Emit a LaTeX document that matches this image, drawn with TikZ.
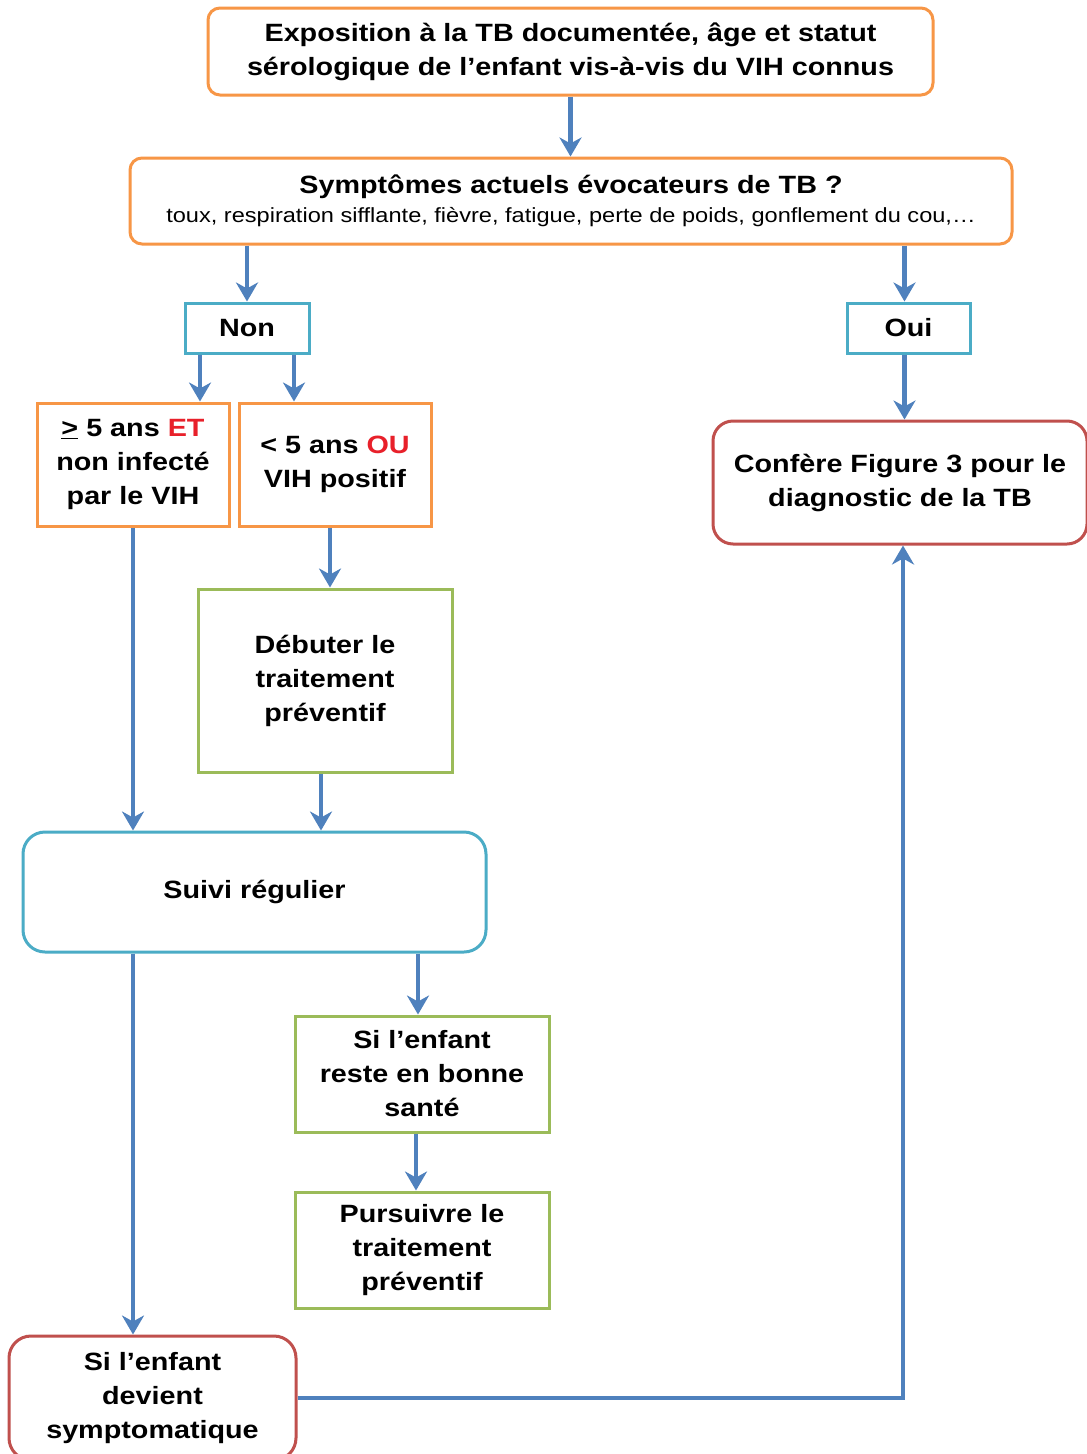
\documentclass[tikz,border=0pt]{standalone}
\usepackage{fontspec}
\setmainfont[FakeStretch=1.15]{Liberation Sans}
\usetikzlibrary{arrows.meta,calc}
\definecolor{borange}{HTML}{F79646}
\definecolor{bteal}{HTML}{4BACC6}
\definecolor{bred}{HTML}{C0504D}
\definecolor{bgreen}{HTML}{9BBB59}
\definecolor{barrow}{HTML}{4F81BD}
\definecolor{tred}{HTML}{E8202A}
\tikzset{
  box/.style={draw, line width=3pt, fill=white, inner sep=0pt, align=center,
    font=\bfseries\fontsize{25}{34}\selectfont},
  obox/.style={box, draw=borange},
  tbox/.style={box, draw=bteal},
  rbox/.style={box, draw=bred},
  gbox/.style={box, draw=bgreen},
  arr/.style={draw=barrow, line width=4.5pt,
    -{Stealth[width=22pt,length=19pt,inset=6pt]}},
}
\begin{document}
\begin{tikzpicture}[x=1pt,y=-1pt]
\useasboundingbox (0,0) rectangle (1087,1454);
\clip (0,0) rectangle (1087,1454);
\fill[white] (0,0) rectangle (1087,1454);

% boxes
\node[obox, rounded corners=12pt, minimum width=725pt, minimum height=87pt] (expo) at (570.5,51.5)
  {Exposition à la TB documentée, âge et statut\\sérologique de l’enfant vis-à-vis du VIH connus};
\node[obox, rounded corners=12pt, minimum width=882pt, minimum height=86pt] (sym) at (571,201)
  {Symptômes actuels évocateurs de TB ?\\[-5pt]{\mdseries\fontsize{20.5}{22}\selectfont toux, respiration sifflante, fièvre, fatigue, perte de poids, gonflement du cou,\dots}};
\node[tbox, minimum width=124pt, minimum height=50pt] (non) at (247,328) {Non};
\node[tbox, minimum width=123pt, minimum height=50pt] (oui) at (908.5,328) {Oui};
\node[obox, minimum width=192pt, minimum height=123pt] (ge) at (133,464.5)
  {\underline{>} 5 ans \textcolor{tred}{ET}\\non infecté\\par le VIH};
\node[obox, minimum width=192pt, minimum height=123pt] (lt) at (335,464.5)
  {< 5 ans \textcolor{tred}{OU}\\VIH positif};
\node[rbox, rounded corners=20pt, minimum width=374pt, minimum height=123pt] (conf) at (900,482.5)
  {Confère Figure 3 pour le\\diagnostic de la TB};
\node[gbox, minimum width=254pt, minimum height=183pt] (deb) at (325,680.5)
  {Débuter le\\traitement\\préventif};
\node[tbox, rounded corners=22pt, minimum width=463pt, minimum height=120pt] (suivi) at (254.5,892)
  {Suivi régulier};
\node[gbox, minimum width=254pt, minimum height=116pt] (reste) at (422,1074)
  {Si l’enfant\\reste en bonne\\santé};
\node[gbox, minimum width=254pt, minimum height=116pt] (pours) at (422,1250)
  {Pursuivre le\\traitement\\préventif};
\node[rbox, rounded corners=22pt, minimum width=287pt, minimum height=124pt] (sympt) at (152.5,1398)
  {Si l’enfant\\devient\\symptomatique};

% connectors
\draw[arr] (expo.south) -- (expo.south |- sym.north);
\draw[arr] (non.north |- sym.south) -- (non.north);
\draw[arr] ([xshift=-4pt]oui.north |- sym.south) -- ([xshift=-4pt]oui.north);
\draw[arr] ([xshift=-47pt]non.south) -- ([xshift=-47pt]non.south |- ge.north);
\draw[arr] ([xshift=47pt]non.south) -- ([xshift=47pt]non.south |- lt.north);
\draw[arr] ([xshift=-4pt]oui.south) -- ([xshift=-4pt]oui.south |- conf.north);
\draw[arr] (ge.south) -- (ge.south |- suivi.north);
\draw[arr] ([xshift=-5pt]lt.south) -- ([xshift=-5pt]lt.south |- deb.north);
\draw[arr] ([xshift=-4pt]deb.south) -- ([xshift=-4pt]deb.south |- suivi.north);
\draw[arr] ([xshift=-4pt]reste.north |- suivi.south) -- ([xshift=-4pt]reste.north);
\draw[arr] ([xshift=-6pt]reste.south) -- ([xshift=-6pt]reste.south |- pours.north);
\draw[arr] (ge.south |- suivi.south) -- (ge.south |- sympt.north);
\draw[arr] (sympt.east) -- ([xshift=3pt]conf.south |- sympt.east) -- ([xshift=3pt]conf.south);
\end{tikzpicture}
\end{document}
